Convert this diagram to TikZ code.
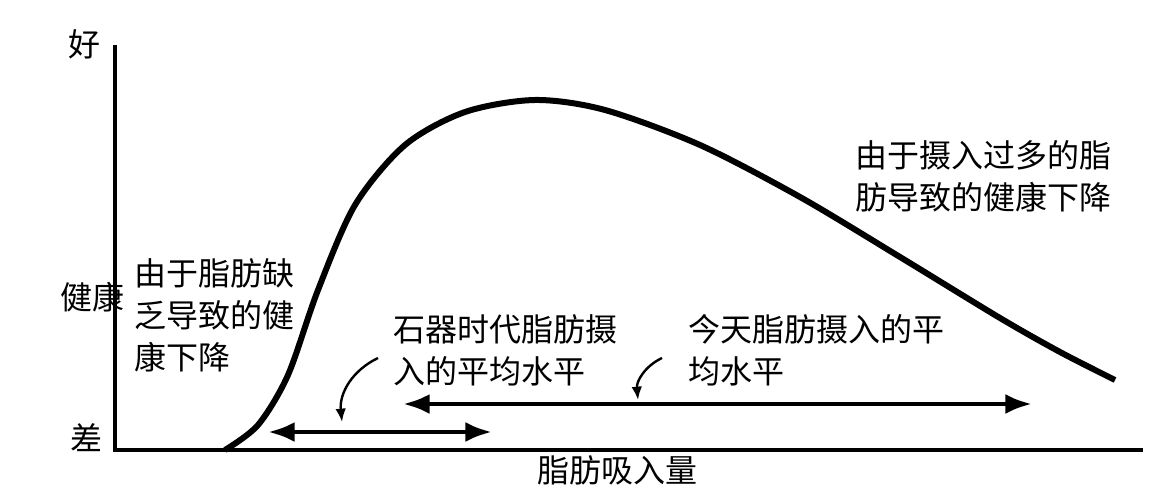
\documentclass[tikz,border=0pt]{standalone}
\usepackage{fontspec}
\setmainfont{Noto Sans CJK SC}
\usetikzlibrary{arrows.meta}
\begin{document}
\begin{tikzpicture}[x=0.75pt,y=-0.75pt,
  lbl/.style={font=\fontsize{24}{31.5}\selectfont,inner sep=0pt,align=left},
  dbl/.style={line width=3.5pt,{Latex[length=20pt,width=15pt]}-{Latex[length=20pt,width=15pt]}},
  crv/.style={line width=1.8pt,-{Latex[length=10pt,width=8pt]}}]
\useasboundingbox (0,0) rectangle (1163,502);
\coordinate (o) at (115,450);
\coordinate (ytop) at (115,45);
\coordinate (xend) at (1143,450);
\draw[line width=2.5pt] (ytop) -- (o) -- (xend);
\draw[line width=4.5pt] plot[smooth,tension=0.5] coordinates {(225,450) (258,425) (288,375) (318,290) (355,205) (405,145) (465,112) (535,100) (605,110) (700,145) (800,197) (900,257) (1000,318) (1060,352) (1115,380)};
\node[lbl] (good) at (84,44) {好};
\node[lbl] (health) at (92,297) {健康};
\node[lbl] (bad) at (86,438) {差};
\node[lbl] (xl) at (617,470) {脂肪吸入量};
\node[lbl,anchor=north west] (t1) at (134,258) {由于脂肪缺\\乏导致的健\\康下降};
\node[lbl,anchor=north west] (t2) at (855,140) {由于摄入过多的脂\\肪导致的健康下降};
\node[lbl,anchor=north west] (t3) at (393,314) {石器时代脂肪摄\\入的平均水平};
\node[lbl,anchor=north west] (t4) at (688,314) {今天脂肪摄入的平\\均水平};
\coordinate (a1l) at (268,432); \coordinate (a1r) at (492,432);
\coordinate (a2l) at (403,404); \coordinate (a2r) at (1032,404);
\draw[dbl] (a1l) -- (a1r);
\draw[dbl] (a2l) -- (a2r);
\coordinate (c1s) at (378,358); \coordinate (c1e) at (342,422);
\coordinate (c2s) at (662,358); \coordinate (c2e) at (638,400);
\draw[crv] (c1s) to[bend right=35] (c1e);
\draw[crv] (c2s) to[bend right=35] (c2e);
\end{tikzpicture}
\end{document}
